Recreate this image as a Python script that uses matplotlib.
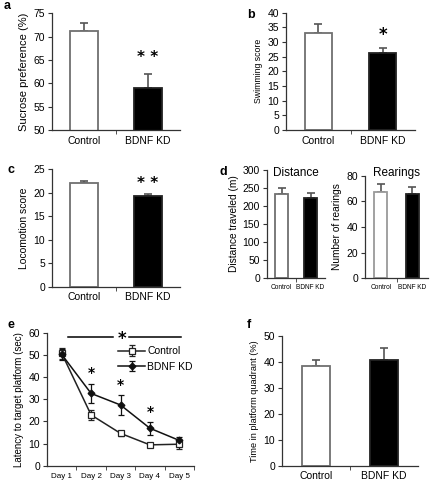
import matplotlib
matplotlib.use("Agg")
import matplotlib.pyplot as plt
import numpy as np

plt.rcParams['font.family'] = ['Liberation Sans', 'DejaVu Sans']

W, H = 430, 484
groups = ["Control", "BDNF KD"]

sucrose = [71.2, 58.9]
sucrose_err = [1.8, 3.0]
swim = [33.2, 26.4]
swim_err = [2.8, 1.4]
locomotion = [22.0, 19.3]
locomotion_err = [0.6, 0.4]
distance = [232, 222]
distance_err = [19, 15]
rearings = [67.6, 65.8]
rearings_err = [5.8, 5.7]
platform_time = [38.2, 40.7]
platform_err = [2.5, 4.5]

days = ["Day 1", "Day 2", "Day 3", "Day 4", "Day 5"]
lat_control = [50.7, 22.9, 14.6, 9.4, 9.7]
lat_control_err = [2.6, 2.2, 1.0, 1.0, 2.0]
lat_bdnf = [50.2, 32.6, 27.4, 16.9, 11.4]
lat_bdnf_err = [2.3, 4.1, 4.6, 3.0, 1.5]

fig = plt.figure(figsize=(W / 100, H / 100), dpi=100)

STAR = dict(family='DejaVu Sans', fontweight='bold')

def ax_px(left, right, top, bottom):
    return fig.add_axes([left / W, 1 - bottom / H, (right - left) / W, (bottom - top) / H])

def bar_panel(ax, vals, errs, ylim, yticks, ylabel, width=0.42, tick_fs=7.5, ylab_fs=7.5,
              xlab_fs=7.5, ctrl_edge='#707070'):
    x = np.array([0.5, 1.5])
    ax.bar(x, vals, width=width, color=['white', 'black'],
           edgecolor=[ctrl_edge, '#222222'], linewidth=1.3, zorder=2)
    for xi, v, e in zip(x, vals, errs):
        ax.errorbar(xi, v, yerr=[[0], [e]], fmt='none', ecolor='#555555',
                    elinewidth=1.2, capsize=3, capthick=1.2, zorder=1)
    ax.set_xlim(0, 2)
    ax.set_ylim(*ylim)
    ax.set_yticks(yticks)
    ax.set_xticks(x)
    ax.set_xticklabels(groups, fontsize=xlab_fs)
    ax.tick_params(axis='x', length=0, pad=4)
    ax.set_xticks([1], minor=True)
    ax.tick_params(axis='x', which='minor', length=3, direction='out', color='#333333')
    ax.tick_params(axis='y', length=3, direction='out', labelsize=tick_fs, pad=2, color='#333333')
    for s in ['top', 'right']:
        ax.spines[s].set_visible(False)
    for s in ['left', 'bottom']:
        ax.spines[s].set_color('#333333')
        ax.spines[s].set_linewidth(0.9)
    ax.set_ylabel(ylabel, fontsize=ylab_fs, labelpad=3)

# a
ax_a = ax_px(51.7, 180, 13.3, 130)
bar_panel(ax_a, sucrose, sucrose_err, (50, 75), [50, 55, 60, 65, 70, 75],
          "Sucrose preference (%)", width=0.44, ylab_fs=8)
ax_a.text(1.5, 65.6, "* *", ha='center', va='center', fontsize=11, **STAR)

# b
ax_b = ax_px(286, 415, 12.7, 130)
bar_panel(ax_b, swim, swim_err, (0, 40), list(range(0, 41, 5)),
          "Swimming score", width=0.42, ylab_fs=6.3)
ax_b.text(1.5, 32.5, "*", ha='center', va='center', fontsize=12, **STAR)

# c
ax_c = ax_px(52, 180, 169.3, 286.7)
bar_panel(ax_c, locomotion, locomotion_err, (0, 25), [0, 5, 10, 15, 20, 25],
          "Locomotion score", width=0.44, ylab_fs=7.5)
ax_c.text(1.5, 22.0, "* *", ha='center', va='center', fontsize=11, **STAR)

# d left
ax_d1 = ax_px(267, 325, 170, 278)
bar_panel(ax_d1, distance, distance_err, (0, 300), list(range(0, 301, 50)),
          "Distance traveled (m)", width=0.42, xlab_fs=4.7, ylab_fs=7.3, tick_fs=7.5)
ax_d1.set_title("Distance", fontsize=8.5, y=0.87)

# d right
ax_d2 = ax_px(365, 428, 175.7, 278.3)
bar_panel(ax_d2, rearings, rearings_err, (0, 80), [0, 20, 40, 60, 80],
          "Number of rearings", width=0.4, xlab_fs=4.7, ylab_fs=7.3, tick_fs=7.5,
          ctrl_edge='#9a9a9a')
ax_d2.set_title("Rearings", fontsize=8.5, y=0.92)

# e
ax_e = ax_px(47, 194, 332.7, 465.7)
xd = np.arange(len(days)) + 0.5
ax_e.errorbar(xd, lat_control, yerr=lat_control_err, color='#222222', lw=1.1,
              marker='s', markersize=3.8, markerfacecolor='white',
              markeredgecolor='#222222', markeredgewidth=0.9, capsize=2.5,
              elinewidth=0.9, capthick=0.9, label="Control")
ax_e.errorbar(xd, lat_bdnf, yerr=lat_bdnf_err, color='#111111', lw=1.1,
              marker='D', markersize=3.4, markerfacecolor='#111111',
              markeredgecolor='#111111', capsize=2.5, elinewidth=0.9,
              capthick=0.9, label="BDNF KD")
ax_e.set_xlim(0, 5)
ax_e.set_ylim(0, 60)
ax_e.set_yticks([0, 10, 20, 30, 40, 50, 60])
ax_e.set_xticks(xd)
ax_e.set_xticklabels(days, fontsize=5.8)
ax_e.tick_params(axis='x', length=0, pad=5)
ax_e.set_xticks([1, 2, 3, 4, 5], minor=True)
ax_e.tick_params(axis='x', which='minor', length=3, color='#333333')
ax_e.tick_params(axis='y', length=3, labelsize=7.5, pad=2, color='#333333')
for s in ['top', 'right']:
    ax_e.spines[s].set_visible(False)
for s in ['left', 'bottom']:
    ax_e.spines[s].set_color('#333333')
    ax_e.spines[s].set_linewidth(0.9)
ax_e.set_ylabel("Latency to target platform (sec)", fontsize=7, labelpad=3)
ax_e.plot([0.72, 2.24], [58.2, 58.2], color='black', lw=1.1)
ax_e.plot([2.80, 4.55], [58.2, 58.2], color='black', lw=1.1)
ax_e.text(2.55, 57.0, "*", ha='center', va='center', fontsize=12, **STAR)
for xi, yv in zip([1.5, 2.5, 3.5], [41.6, 36.4, 24.3]):
    ax_e.text(xi, yv, "*", ha='center', va='center', fontsize=10, **STAR)
ax_e.legend(loc='upper right', bbox_to_anchor=(1.02, 0.93), frameon=False,
            fontsize=7.5, handlelength=2.6, handletextpad=0.2, labelspacing=0.55,
            borderaxespad=0)

# f
ax_f = ax_px(282, 418, 335.7, 465.7)
bar_panel(ax_f, platform_time, platform_err, (0, 50), [0, 10, 20, 30, 40, 50],
          "Time in platform quadrant (%)", width=0.42, ylab_fs=6.6)

# panel letters
for letter, px, py in [("a", 4, 6), ("b", 247, 15), ("c", 8, 170), ("d", 220, 172),
                       ("e", 8, 325), ("f", 247, 325)]:
    fig.text(px / W, 1 - py / H, letter, fontsize=9, fontweight='bold',
             ha='left', va='center')

fig.savefig("out.png", dpi=100)
